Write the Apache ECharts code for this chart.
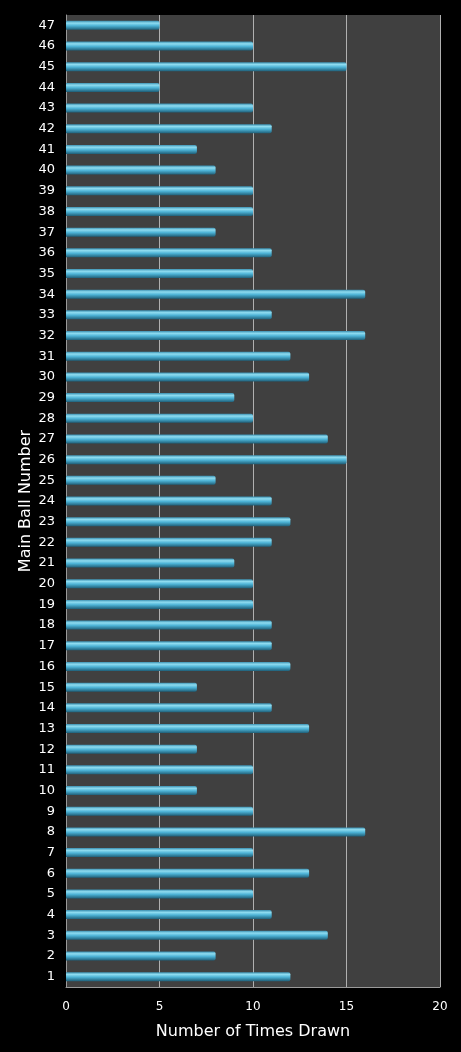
<!DOCTYPE html>
<html>
<head>
<meta charset="utf-8">
<script src="https://cdn.jsdelivr.net/npm/echarts@6/dist/echarts.min.js"></script>
<style>
html, body { margin: 0; padding: 0; background: #000; }
#myEchart { width: 461px; height: 1052px; }
</style>
</head>
<body>
<div id="myEchart"></div>
<script>
// 球号 1..47
var ballNumbers = []
for (var i = 1; i <= 47; i++) ballNumbers.push(String(i))
// 出现次数
var timesDrawn = [12, 8, 14, 11, 10, 13, 10, 16, 10, 7,
  10, 7, 13, 11, 7, 12, 11, 11, 10, 10,
  9, 11, 12, 11, 8, 15, 14, 10, 9, 13,
  12, 16, 11, 16, 10, 11, 8, 10, 10, 8,
  7, 11, 10, 5, 15, 10, 5]
var xTicks = [0, 5, 10, 15, 20]

var font = 'DejaVu Sans, Verdana, sans-serif'
var chart = echarts.init(document.getElementById('myEchart'))
chart.setOption({
  backgroundColor: '#000',
  animation: false,
  grid: {
    left: 66,
    right: 21,
    top: 15,
    bottom: 65,
    show: true,
    backgroundColor: '#404040',
    borderColor: '#404040',
    borderWidth: 0
  },
  xAxis: {
    type: 'value',
    min: xTicks[0],
    max: xTicks[xTicks.length - 1],
    interval: 5,
    name: 'Number of Times Drawn',
    nameLocation: 'middle',
    nameGap: 37,
    nameTextStyle: { color: '#fff', fontSize: 16, fontFamily: font },
    axisLine: { show: true, lineStyle: { color: '#9a9a9a', width: 1 } },
    axisTick: { show: false },
    axisLabel: { color: '#fff', fontSize: 12, fontFamily: font, margin: 14 },
    splitLine: { show: true, lineStyle: { color: '#b0b0b0', width: 1 } }
  },
  yAxis: {
    type: 'category',
    data: ballNumbers,
    name: 'Main Ball Number',
    nameLocation: 'middle',
    nameGap: 32,
    nameMoveOverlap: false,
    nameTextStyle: { color: '#fff', fontSize: 16, fontFamily: font },
    axisLine: { show: true, lineStyle: { color: '#9a9a9a', width: 1 } },
    axisTick: { show: false },
    axisLabel: { color: '#fff', fontSize: 13, fontFamily: font, margin: 11, interval: 0 },
    splitLine: { show: false }
  },
  series: [{
    type: 'bar',
    data: timesDrawn,
    barWidth: 9,
    itemStyle: {
      color: {
        type: 'linear', x: 0, y: 0, x2: 0, y2: 1,
        colorStops: [
          { offset: 0, color: '#3a8fb0' },
          { offset: 0.25, color: '#8fdcf0' },
          { offset: 0.55, color: '#4db3d6' },
          { offset: 1, color: '#1f5f78' }
        ]
      },
      borderRadius: [0, 2, 2, 0]
    }
  }]
})
</script>
</body>
</html>
